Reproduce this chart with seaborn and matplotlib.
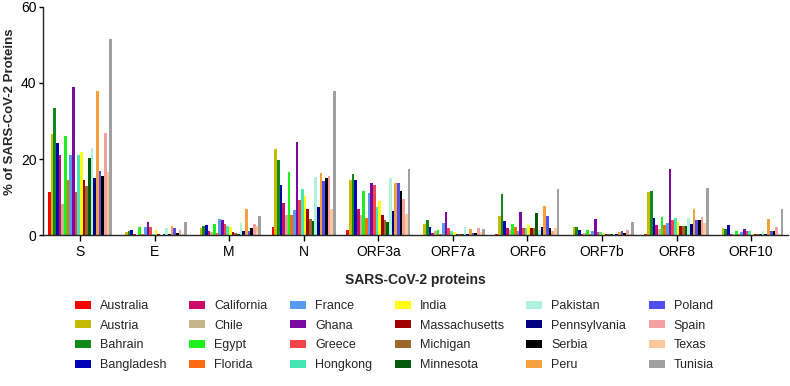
import seaborn as sns
import pandas as pd
import matplotlib.pyplot as plt
from matplotlib.patches import Patch

sns.set_style("ticks")
plt.rcParams['font.family'] = ['Liberation Sans', 'DejaVu Sans']

proteins = ["S", "E", "M", "N", "ORF3a", "ORF7a", "ORF6", "ORF7b", "ORF8", "ORF10"]

# % of proteins per region, in protein order above
australia     = [11.2, 0.1, 0.1, 2.0, 1.3, 0.1, 0.4, 0.1, 0.4, 0.1]
austria       = [26.6, 0.9, 1.9, 22.6, 14.4, 3.0, 5.1, 2.0, 11.3, 1.9]
bahrain       = [33.4, 1.0, 2.3, 19.7, 16.1, 4.0, 10.7, 2.2, 11.6, 1.6]
bangladesh    = [24.1, 1.3, 2.6, 13.1, 14.6, 2.1, 3.6, 1.3, 4.6, 2.6]
california    = [21.1, 0.2, 1.1, 8.5, 6.8, 0.6, 1.9, 0.4, 2.6, 0.3]
chile         = [8.3, 0.1, 0.7, 5.4, 5.3, 1.1, 1.3, 0.5, 1.5, 0.2]
egypt         = [26.1, 2.2, 3.0, 16.5, 11.5, 1.3, 2.8, 1.4, 4.7, 1.1]
florida       = [14.5, 0.2, 0.6, 5.4, 4.6, 0.4, 2.2, 0.3, 2.7, 0.2]
france        = [21.1, 2.0, 4.2, 6.6, 11.1, 3.2, 1.1, 1.0, 3.1, 0.9]
ghana         = [38.9, 3.4, 4.0, 24.5, 13.7, 6.0, 6.0, 4.1, 17.3, 1.6]
greece        = [11.2, 2.0, 3.0, 9.2, 13.2, 1.9, 1.9, 0.9, 3.9, 1.1]
hongkong      = [21.0, 0.4, 2.4, 12.1, 7.3, 1.1, 1.9, 0.7, 4.6, 1.1]
india         = [21.8, 1.4, 2.2, 10.4, 9.0, 0.8, 2.6, 0.6, 3.5, 0.2]
massachusetts = [14.4, 0.2, 0.9, 6.9, 5.3, 0.4, 1.9, 0.4, 2.5, 0.4]
michigan      = [12.9, 0.1, 0.6, 4.1, 3.9, 0.3, 1.9, 0.3, 2.5, 0.2]
minnesota     = [20.3, 0.2, 0.4, 3.6, 3.4, 0.2, 5.7, 0.3, 2.5, 0.2]
pakistan      = [22.8, 1.8, 3.2, 15.3, 15.1, 2.1, 1.3, 0.4, 4.6, 1.1]
pennsylvania  = [15.1, 0.2, 1.0, 7.3, 6.3, 0.4, 2.2, 0.4, 2.9, 0.4]
peru          = [37.9, 2.4, 6.8, 16.3, 13.7, 1.6, 7.6, 0.7, 6.8, 4.1]
poland        = [16.8, 1.9, 1.1, 14.3, 13.7, 0.6, 5.1, 1.2, 3.9, 1.2]
serbia        = [15.6, 0.5, 1.9, 15.0, 11.6, 0.5, 1.9, 0.5, 3.9, 1.2]
spain         = [26.8, 1.3, 2.9, 15.5, 9.6, 1.9, 1.1, 1.4, 4.7, 2.0]
texas         = [16.5, 0.2, 2.5, 6.9, 5.6, 0.9, 1.8, 0.4, 3.3, 0.3]
tunisia       = [51.7, 3.4, 5.1, 37.9, 17.5, 1.6, 12.0, 3.4, 12.4, 6.8]

series = {
    "Australia": australia, "Austria": austria, "Bahrain": bahrain,
    "Bangladesh": bangladesh, "California": california, "Chile": chile,
    "Egypt": egypt, "Florida": florida, "France": france, "Ghana": ghana,
    "Greece": greece, "Hongkong": hongkong, "India": india,
    "Massachusetts": massachusetts, "Michigan": michigan,
    "Minnesota": minnesota, "Pakistan": pakistan,
    "Pennsylvania": pennsylvania, "Peru": peru, "Poland": poland,
    "Serbia": serbia, "Spain": spain, "Texas": texas, "Tunisia": tunisia,
}

colors = {
    "Australia": "#ff0000", "Austria": "#c4bc00", "Bahrain": "#11881a",
    "Bangladesh": "#0000b4", "California": "#cc0a6a", "Chile": "#c2b58a",
    "Egypt": "#1ef01e", "Florida": "#ff6a10", "France": "#559cf0",
    "Ghana": "#7a0aa0", "Greece": "#f2444a", "Hongkong": "#44e6b4",
    "India": "#ffff10", "Massachusetts": "#a00000", "Michigan": "#9e662c",
    "Minnesota": "#005a0a", "Pakistan": "#aef2dc", "Pennsylvania": "#000080",
    "Peru": "#f7a040", "Poland": "#5050f0", "Serbia": "#000000",
    "Spain": "#f4a0a0", "Texas": "#ffc89a", "Tunisia": "#a0a0a0",
}

# legend order as printed in the figure (column by column)
legend_order = ["Australia", "Austria", "Bahrain", "Bangladesh",
                "California", "Chile", "Egypt", "Florida",
                "France", "Ghana", "Greece", "Hongkong",
                "India", "Massachusetts", "Michigan", "Minnesota",
                "Pakistan", "Pennsylvania", "Serbia", "Peru",
                "Poland", "Spain", "Texas", "Tunisia"]

rows = []
for name, vals in series.items():
    for p, v in zip(proteins, vals):
        rows.append({"protein": p, "pct": v, "country": name})
df = pd.DataFrame(rows)

fig = plt.figure(figsize=(7.9, 3.86), dpi=100)
ax = fig.add_axes([0.054, 0.391, 0.944, 0.591])

sns.barplot(data=df, x="protein", y="pct", hue="country",
            hue_order=list(series.keys()), order=proteins, palette=colors,
            errorbar=None, width=0.86, saturation=1, linewidth=0,
            legend=False, ax=ax)

ax.set_xlim(-0.5, 9.5)
ax.set_ylim(0, 60)
ax.set_yticks([0, 20, 40, 60])
sns.despine(ax=ax)
ax.spines['left'].set_linewidth(1.0)
ax.spines['bottom'].set_linewidth(1.0)
ax.tick_params(axis='both', labelsize=10, length=4, width=1, colors='black')
ax.tick_params(axis='y', length=3, pad=1.5)
ax.set_xlabel("SARS-CoV-2 proteins", fontsize=10, fontweight='bold', labelpad=10)
ax.set_ylabel("% of SARS-CoV-2 Proteins", fontsize=9.5, fontweight='bold')
ax.yaxis.set_label_coords(-0.036, 0.54)

handles = [Patch(facecolor=colors[n], edgecolor='none') for n in legend_order]
fig.legend(handles, legend_order, ncol=6, loc='upper left',
           bbox_to_anchor=(0.081, 0.252), frameon=False, fontsize=9,
           handlelength=1.3, handleheight=0.6, handletextpad=0.7,
           columnspacing=1.8, labelspacing=0.62)

fig.savefig("out.png", dpi=100)
